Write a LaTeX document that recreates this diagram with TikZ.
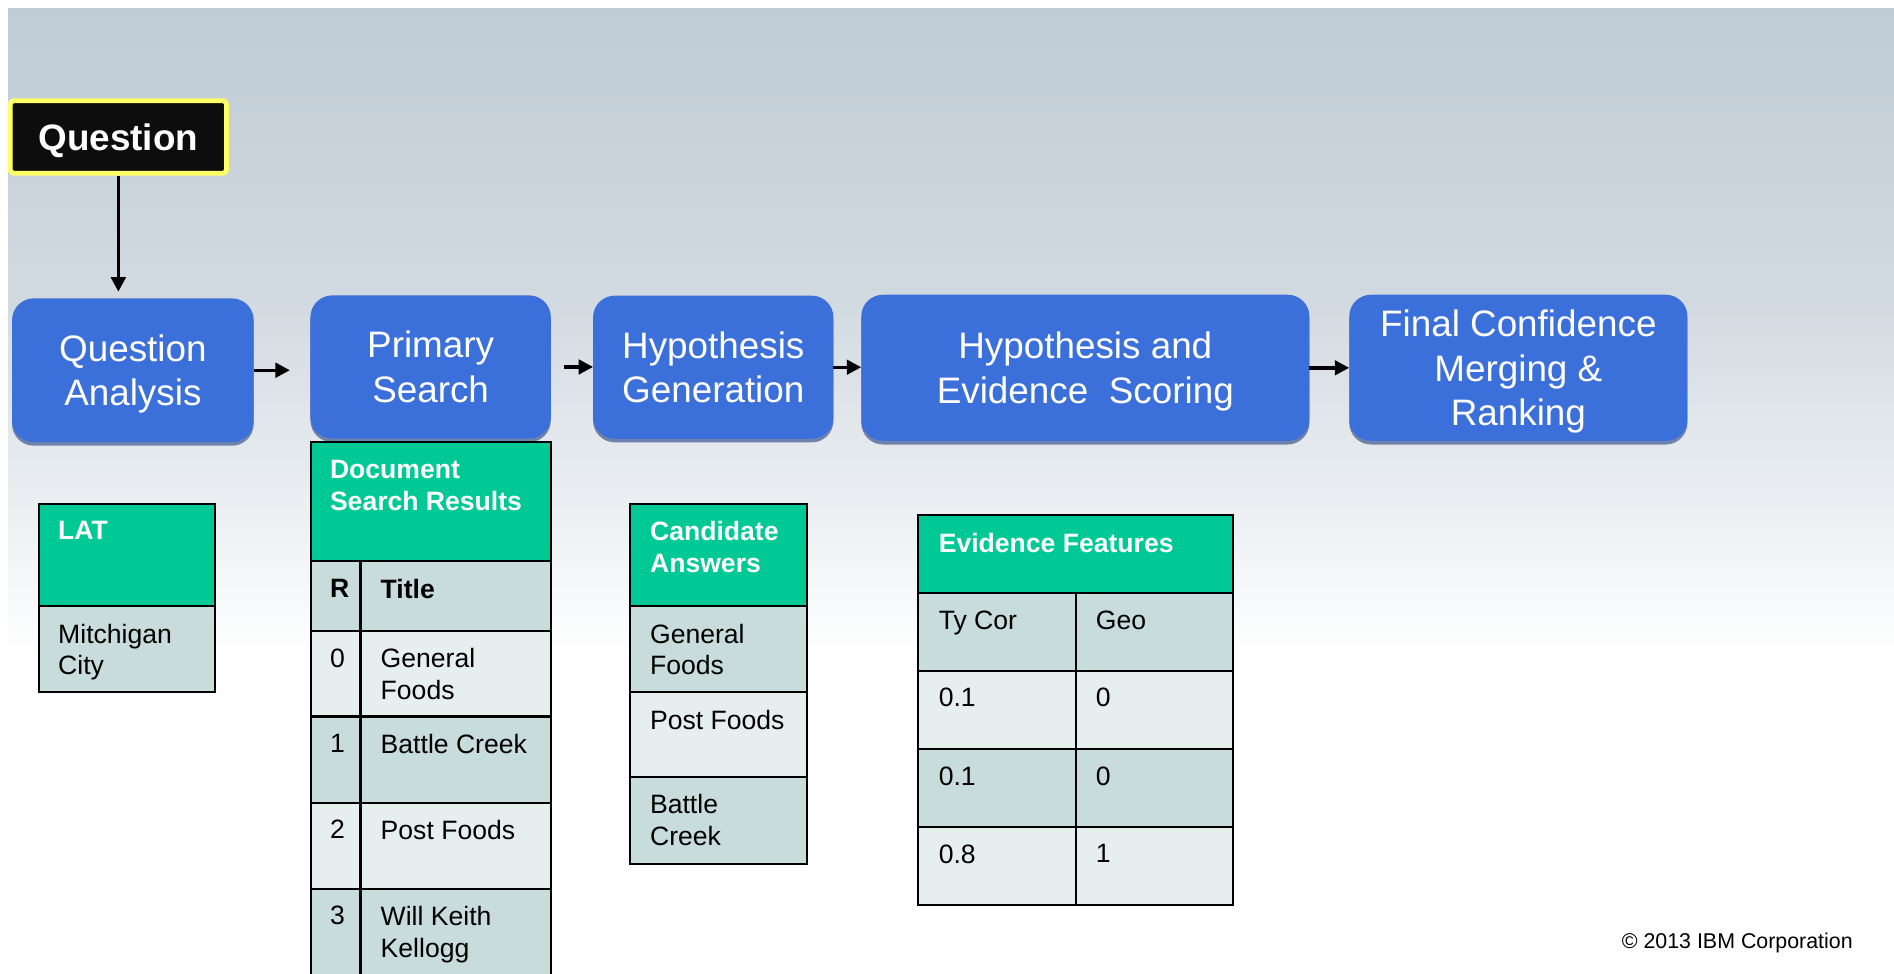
\documentclass[tikz,border=0pt]{standalone}
\usepackage{fontspec}
\setmainfont{Liberation Sans}
\usetikzlibrary{arrows.meta}
\definecolor{bgtop}{HTML}{BFCCD6}
\definecolor{bgmid}{HTML}{D2DAE1}
\definecolor{boxblue}{HTML}{3B6FD9}
\definecolor{boxshadow}{HTML}{3E5790}
\definecolor{qyellow}{HTML}{FFFF66}
\definecolor{qblack}{HTML}{0D0D0D}
\definecolor{hdrgreen}{HTML}{00C996}
\definecolor{rowdark}{HTML}{C8DCDB}
\definecolor{rowlight}{HTML}{E6EFEE}
\newcommand\tcell[5]{\path[cellline, fill=#5] (#1,#2) rectangle (#3,#4);}
\begin{document}
\begin{tikzpicture}[x=1pt,y=-1pt,
  stage/.style={rounded corners=18pt, fill=boxblue, text=white, align=center,
    font=\fontsize{30.5}{37}\selectfont, inner sep=0pt, outer sep=0pt, text depth=0pt,
    preaction={fill=boxshadow, opacity=0.7, transform canvas={yshift=-3pt}}},
  arr/.style={line width=2.8pt, -{Triangle[length=12pt,width=12pt]}},
  ctxt/.style={anchor=north west, inner sep=0pt, align=left, font=\fontsize{22}{26}\selectfont},
  htxt/.style={anchor=north west, inner sep=0pt, align=left, text=white, font=\bfseries\fontsize{22}{26}\selectfont},
  btxt/.style={anchor=north west, inner sep=0pt, align=left, font=\bfseries\fontsize{22}{26}\selectfont},
  cellline/.style={draw=black, line width=1.8pt}]

\clip (0,0) rectangle (1568,806);
\fill[white] (0,0) rectangle (1568,806);
\shade[top color=bgtop, bottom color=bgmid] (7,7) rectangle (1568,251);
\shade[top color=bgmid, bottom color=white] (7,250) rectangle (1568,545);

% question
\node[draw=qyellow, line width=4pt, fill=qblack, rounded corners=3pt, text=white,
  font=\bfseries\fontsize{30.5}{37}\selectfont, minimum width=179pt, minimum height=60pt,
  inner sep=0pt, text height=22pt, text depth=0pt] (q) at (98,113.4) {Question};

% stages
\node[stage, minimum width=200pt, minimum height=119pt] (qa) at (110,306.5) {Question\\Analysis};
\node[stage, minimum width=199pt, minimum height=118.5pt] (ps) at (356.5,303.8) {Primary\\Search};
\node[stage, minimum width=199pt, minimum height=118.5pt] (hg) at (590.5,304) {Hypothesis\\Generation};
\node[stage, minimum width=371pt, minimum height=121pt] (hes) at (898.5,304.5) {Hypothesis and\\Evidence\hspace{0.28em} Scoring};
\node[stage, minimum width=280pt, minimum height=121pt] (fc) at (1257,304.5) {Final Confidence\\Merging \&\\Ranking};

% connectors
\draw[arr, shorten >=5.5pt] (q.south) -- (q.south |- qa.north);
\draw[arr, shorten >=17pt] (qa.east) -- (qa.east -| ps.west);
\draw[arr, shorten <=11pt] (ps.east) -- (ps.east -| hg.west);
\draw[arr] (hg.east) -- (hg.east -| hes.west);
\draw[arr] (hes.east) -- (hes.east -| fc.west);

% LAT table
\tcell{32}{417}{178}{502}{hdrgreen}
\tcell{32}{502}{178}{573}{rowdark}
\node[htxt] (lath) at (48,431.5) {LAT};
\node[ctxt] (lat1) at (48,516.5) {Mitchigan\\City};

% Document search results
\tcell{257.2}{365.6}{455.9}{464.4}{hdrgreen}
\tcell{257.2}{464.4}{298.5}{522.2}{rowdark}
\tcell{298.5}{464.4}{455.9}{522.2}{rowdark}
\tcell{257.2}{522.2}{298.5}{593.2}{rowlight}
\tcell{298.5}{522.2}{455.9}{593.2}{rowlight}
\tcell{257.2}{593.2}{298.5}{664.5}{rowdark}
\tcell{298.5}{593.2}{455.9}{664.5}{rowdark}
\tcell{257.2}{664.5}{298.5}{735.7}{rowlight}
\tcell{298.5}{664.5}{455.9}{735.7}{rowlight}
\tcell{257.2}{735.7}{298.5}{820}{rowdark}
\tcell{298.5}{735.7}{455.9}{820}{rowdark}
\node[htxt] (dsh) at (273,381) {Document\\Search Results};
\node[btxt] (dsr) at (273,479) {R};
\node[btxt] (dst) at (315,479) {Title};
\node[ctxt] (d0n) at (273,536.7) {0};
\node[ctxt] (d0t) at (315,536.7) {General\\Foods};
\node[ctxt] (d1n) at (273,607.7) {1};
\node[ctxt] (d1t) at (315,607.7) {Battle Creek};
\node[ctxt] (d2n) at (273,679) {2};
\node[ctxt] (d2t) at (315,679) {Post Foods};
\node[ctxt] (d3n) at (273,750.2) {3};
\node[ctxt] (d3t) at (315,750.2) {Will Keith\\Kellogg};

% Candidate answers
\tcell{521.7}{417}{668.3}{502}{hdrgreen}
\tcell{521.7}{502}{668.3}{573}{rowdark}
\tcell{521.7}{573}{668.3}{643}{rowlight}
\tcell{521.7}{643}{668.3}{715}{rowdark}
\node[htxt] (cah) at (538,431.5) {Candidate\\Answers};
\node[ctxt] (ca1) at (538,516.5) {General\\Foods};
\node[ctxt] (ca2) at (538,587.5) {Post Foods};
\node[ctxt] (ca3) at (538,657.5) {Battle\\Creek};

% Evidence features
\tcell{760.3}{426.4}{1020.5}{490.7}{hdrgreen}
\tcell{760.3}{490.7}{890.5}{555.2}{rowdark}
\tcell{890.5}{490.7}{1020.5}{555.2}{rowdark}
\tcell{760.3}{555.2}{890.5}{620.1}{rowlight}
\tcell{890.5}{555.2}{1020.5}{620.1}{rowlight}
\tcell{760.3}{620.1}{890.5}{684.4}{rowdark}
\tcell{890.5}{620.1}{1020.5}{684.4}{rowdark}
\tcell{760.3}{684.4}{890.5}{749.2}{rowlight}
\tcell{890.5}{684.4}{1020.5}{749.2}{rowlight}
\node[htxt] (efh) at (777,441) {Evidence Features};
\node[ctxt] (ef1a) at (777,505.2) {Ty Cor};
\node[ctxt] (ef1b) at (907,505.2) {Geo};
\node[ctxt] (ef2a) at (777,569.7) {0.1};
\node[ctxt] (ef2b) at (907,569.7) {0};
\node[ctxt] (ef3a) at (777,634.6) {0.1};
\node[ctxt] (ef3b) at (907,634.6) {0};
\node[ctxt] (ef4a) at (777,698.9) {0.8};
\node[ctxt] (ef4b) at (907,698.9) {1};

% copyright
\node[anchor=base west, inner sep=0pt, font=\fontsize{17.7}{21}\selectfont] (copy) at (1342.5,785) {© 2013 IBM Corporation};
\end{tikzpicture}
\end{document}
